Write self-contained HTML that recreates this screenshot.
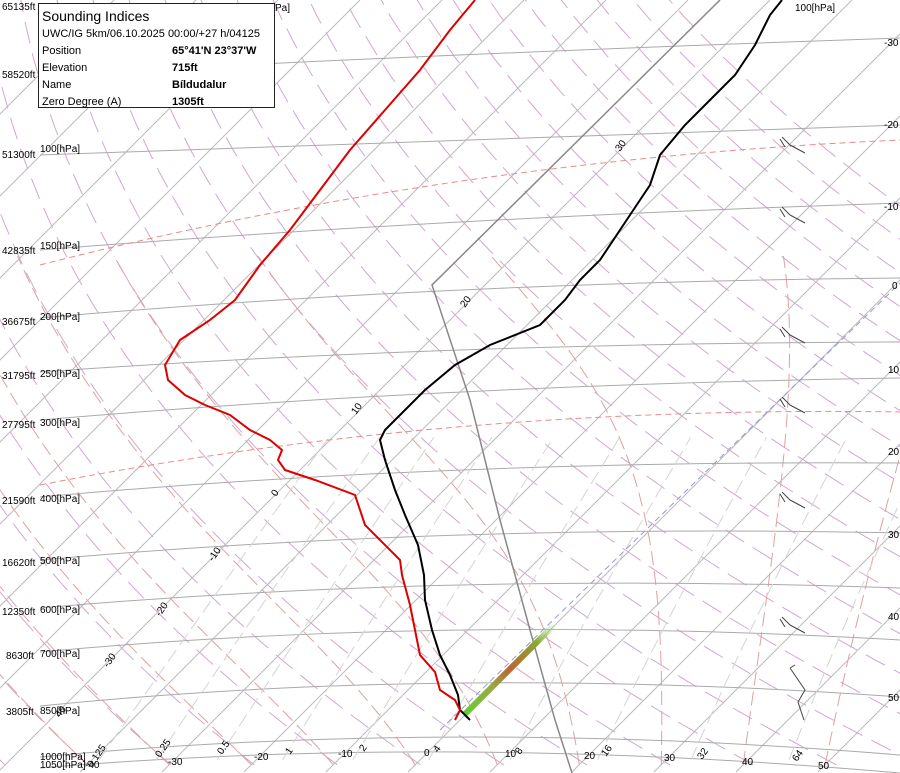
<!DOCTYPE html>
<html><head><meta charset="utf-8"><style>
html,body{margin:0;padding:0;background:#fff;width:900px;height:773px;overflow:hidden}
svg{position:absolute;left:0;top:0}
text{font-family:"Liberation Sans",sans-serif;font-size:10px;fill:#000}
#box{position:absolute;left:38px;top:3px;width:235px;height:103px;background:#fff;border:1px solid #222;font-family:"Liberation Sans",sans-serif;font-size:11px;color:#000}
#box .t{font-size:14px;margin:4px 0 2px 3px}
#box .r{height:17px;line-height:17px;margin-left:3px;position:relative}
#box .r b{position:absolute;left:130px}
</style></head><body>
<svg id="s" width="900" height="773" viewBox="0 0 900 773"></svg>
<div id="box"><div class="t">Sounding Indices</div>
<div class="r">UWC/IG 5km/06.10.2025 00:00/+27 h/04125</div>
<div class="r">Position<b>65°41'N 23°37'W</b></div>
<div class="r">Elevation<b>715ft</b></div>
<div class="r">Name<b>Bíldudalur</b></div>
<div class="r">Zero Degree (A)<b>1305ft</b></div></div>
<script>
var s=document.getElementById('s'),h='';
function Y(p){return 752-261.4*Math.log(1000/p);}
function X(T,p){var y=Y(p);return 428+T*8.2+(752-y);}
function pl(pts,st){return '<polyline fill="none" points="'+pts.map(function(a){return a[0].toFixed(1)+','+a[1].toFixed(1)}).join(' ')+'" style="'+st+'"/>';}
// dry adiabats
for(var th=200;th<=480;th+=10){var pts=[];for(var p=1050;p>=40;p-=10){pts.push([X(th*Math.pow(p/1000,0.286)-273.15,p),Y(p)]);}h+=pl(pts,'stroke:#d0a8d0;stroke-width:1;stroke-dasharray:22 10');}
// moist adiabats
function es(T){return 6.112*Math.exp(17.67*T/(T+243.5));}
for(var T0=-40;T0<=50;T0+=10){var T=T0,pts=[];for(var p=1050;p>=150;p-=5){pts.push([X(T,p),Y(p)]);var Tk=T+273.15,ws=0.622*es(T)/(p-es(T)),L=2.5e6;var g=(0.286*Tk+L*ws/1004)/(1+L*L*ws*0.622/(1004*287*Tk*Tk))/p;T-=g*5;}h+=pl(pts,'stroke:#e0a0a0;stroke-width:1;stroke-dasharray:14 6');}
// isotherms
for(var t=-130;t<=50;t+=10){var x0=428+t*8.2;h+='<line x1="'+(x0-20)+'" y1="772" x2="'+(x0+752)+'" y2="0" stroke="#bbb" stroke-width="1"/>';}
// isobars
var ib=[[768,752,773],[757,737,755],[706,683,697],[652,630,640],[608,585,588],[560,535,533],[497,470,463],[420,392,378],[372,350,342],[318,290,278],[250,222,203],[155,140,125],[75,55,38]];
ib.forEach(function(a){h+='<path d="M40,'+a[0]+' Q450,'+(2*a[1]-(a[0]+a[2])/2)+' 900,'+a[2]+'" fill="none" stroke="#aaa" stroke-width="1"/>';});
// mixing ratio
var ws=[0.125,0.25,0.5,1,2,4,8,16,32,64];
ws.forEach(function(w){var pts=[];for(var p=1030;p>=300;p-=10){var e=w/1000*p/(0.622+w/1000);var l=Math.log(e/6.112);var T=243.5*l/(17.67-l);pts.push([X(T,p),Y(p)]);}h+=pl(pts,'stroke:#d4d4d4;stroke-width:1;stroke-dasharray:14 6');});
// red dashed freezing curves
h+='<path d="M40,485 Q450,405 900,412" fill="none" stroke="#e88" style="stroke-dasharray:6 4"/>';
h+='<path d="M40,265 Q450,160 900,140" fill="none" stroke="#e88" style="stroke-dasharray:6 4"/>';
// blue dashed
h+='<line x1="440" y1="730" x2="900" y2="283" stroke="#99c" stroke-width="1" stroke-dasharray="6 4"/>';
// gray parcel
h+=pl([[720,0],[432,285],[470,400],[500,520],[530,630],[555,720],[572,773]],'stroke:#888;stroke-width:1.5');
h+='<defs><linearGradient id="g" x1="0" y1="1" x2="1" y2="0"><stop offset="0" stop-color="#6c3"/><stop offset="0.3" stop-color="#9a4"/><stop offset="0.5" stop-color="#b63"/><stop offset="0.8" stop-color="#8a3"/><stop offset="1" stop-color="#8d5" stop-opacity="0"/></linearGradient></defs>';
h+='<line x1="465" y1="714" x2="555" y2="624" stroke="url(#g)" stroke-width="6"/>';
h+=pl([[470,720],[460,710],[458,695],[450,675],[440,655],[432,630],[425,600],[424,575],[418,545],[405,515],[395,490],[385,460],[380,440],[385,430],[400,415],[425,390],[455,365],[490,345],[540,325],[565,300],[580,280],[600,260],[620,230],[640,200],[650,185],[660,155],[685,125],[710,100],[735,75],[755,45],[770,15],[782,0]],'stroke:#000;stroke-width:2');
h+=pl([[455,720],[460,710],[455,700],[440,690],[435,672],[420,655],[415,630],[410,605],[402,575],[400,560],[380,540],[365,525],[355,495],[315,480],[285,470],[278,460],[282,450],[270,440],[250,430],[230,415],[205,405],[185,395],[168,380],[165,365],[180,340],[210,320],[235,300],[260,265],[290,230],[320,190],[350,150],[385,110],[420,70],[450,30],[475,0]],'stroke:#d00;stroke-width:2');
[[145],[215],[335],[405],[500],[625]].forEach(function(a){var y=a[0];h+='<path d="M790,'+y+' L805,'+(y+8)+' M790,'+y+' L782,'+(y-8)+' M785,'+(y+2)+' L780,'+(y-6)+'" fill="none" stroke="#444"/>';});
h+='<path d="M790,668 L805,690 L798,702 L804,720 M790,668 L795,665" fill="none" stroke="#444"/>';
var L=[['65135ft',2,10],['58520ft',2,78],['51300ft',2,158],['42835ft',2,254],['36675ft',2,325],['31795ft',2,379],['27795ft',2,428],['21590ft',2,504],['16620ft',2,566],['12350ft',2,615],['8630ft',6,659],['3805ft',6,715]];
L.forEach(function(a){h+='<text x="'+a[1]+'" y="'+a[2]+'">'+a[0]+'</text>';});
var P=[['100[hPa]',40,152],['150[hPa]',40,249],['200[hPa]',40,320],['250[hPa]',40,377],['300[hPa]',40,426],['400[hPa]',40,502],['500[hPa]',40,564],['600[hPa]',40,613],['700[hPa]',40,657],['850[hPa]',40,714],['1000[hPa]',40,760],['1050[hPa]',40,768],['100[hPa]',795,11],['Pa]',275,11]];
P.forEach(function(a){h+='<text x="'+a[1]+'" y="'+a[2]+'">'+a[0]+'</text>';});
var T=[['-30',168,765],['-20',254,760],['-10',338,757],['0',424,756],['10',505,757],['20',584,759],['30',664,761],['40',742,765],['50',818,769],['-30',884,46],['-20',884,128],['-10',884,210],['0',892,289],['10',888,373],['20',888,455],['30',888,538],['40',888,620],['50',888,701],['-40',85,768]];
T.forEach(function(a){h+='<text x="'+a[1]+'" y="'+a[2]+'">'+a[0]+'</text>';});
var R=[['30',620,152],['20',465,308],['10',356,415],['0',276,497],['-10',213,562],['-20',160,617],['-30',108,668],['40',60,718],['0.125',92,768],['0.25',160,758],['0.5',222,755],['1',290,755],['2',364,752],['4',438,753],['8',520,755],['16',606,757],['32',702,760],['64',797,762]];
R.forEach(function(a){h+='<text transform="translate('+a[1]+','+a[2]+') rotate(-55)" x="0" y="0">'+a[0]+'</text>';});
s.innerHTML=h;
</script>
</body></html>
